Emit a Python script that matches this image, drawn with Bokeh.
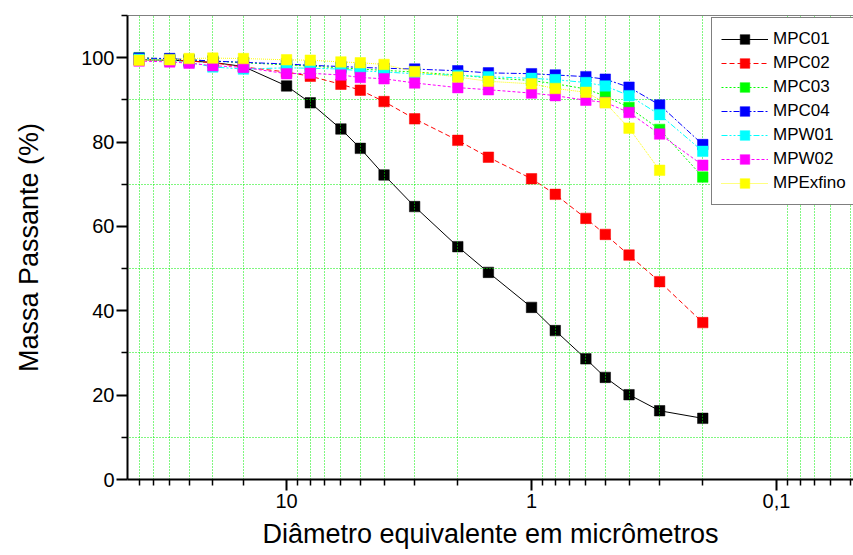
from bokeh.plotting import figure
from bokeh.models import Range1d, FixedTicker, CustomJSTickFormatter, Span
from bokeh.embed import file_html
from bokeh.resources import INLINE

# ---- data (diameter in micrometres, % passing) ----
diam = [40, 30, 25, 20, 15, 10, 8, 6, 5, 4, 3, 2, 1.5, 1, 0.8, 0.6, 0.5, 0.4, 0.3, 0.2]
diam_exfino = [40, 30, 25, 20, 15, 10, 8, 6, 5, 4, 3, 2, 1.5, 1, 0.8, 0.6, 0.5, 0.4, 0.3]

mpc01 = [99.5, 99.4, 99.2, 98.9, 97.9, 93.3, 89.3, 83.1, 78.5, 72.2, 64.7, 55.2, 49.1, 40.8, 35.3, 28.6, 24.2, 20.1, 16.3, 14.5]
mpc02 = [99.6, 99.4, 99.2, 98.8, 97.8, 96.6, 95.6, 93.7, 92.3, 89.6, 85.5, 80.4, 76.4, 71.3, 67.6, 61.9, 58.1, 53.2, 46.9, 37.2]
mpc03 = [100.0, 99.7, 99.5, 99.2, 98.8, 98.3, 98.0, 97.6, 97.3, 97.0, 96.6, 95.9, 95.2, 94.6, 93.8, 92.6, 90.9, 88.2, 83.0, 71.7]
mpc04 = [99.9, 99.8, 99.5, 99.2, 98.9, 98.5, 98.2, 97.9, 97.7, 97.5, 97.3, 96.9, 96.4, 96.2, 95.9, 95.5, 94.9, 93.0, 88.8, 79.4]
mpw01 = [99.6, 99.4, 98.9, 97.8, 97.3, 97.6, 97.5, 97.3, 96.9, 96.6, 96.2, 95.8, 95.5, 95.1, 94.8, 94.1, 93.3, 91.0, 86.5, 77.8]
mpw02 = [99.2, 99.0, 98.7, 98.1, 97.7, 96.2, 96.3, 95.9, 95.3, 95.0, 94.0, 92.9, 92.4, 91.6, 91.0, 89.9, 89.4, 87.0, 81.9, 74.5]
mpexfino = [99.4, 99.5, 99.8, 99.9, 99.8, 99.5, 99.4, 99.0, 98.8, 98.4, 96.7, 95.4, 94.4, 93.8, 92.7, 91.8, 89.3, 83.3, 73.3]

x_major = [10, 1, 0.1]
x_minor = [45, 40, 35, 30, 25, 20, 15, 9, 8, 7, 6, 5, 4, 3, 2,
           0.9, 0.8, 0.7, 0.6, 0.5, 0.4, 0.3, 0.2, 0.09, 0.08, 0.07, 0.06, 0.05]
y_major = [0, 20, 40, 60, 80, 100]
y_minor = [10, 30, 50, 70, 90, 110]

FONT = "Liberation Sans"

p = figure(width=853, height=555, x_axis_type="log",
           x_range=Range1d(44.6, 0.0485), y_range=Range1d(0, 110),
           output_backend="svg", toolbar_location=None,
           min_border_left=127, min_border_right=0,
           min_border_top=15, min_border_bottom=76)

p.outline_line_color = None
p.background_fill_color = "white"
p.border_fill_color = "white"

# grids only on minor ticks
for g in (p.xgrid, p.ygrid):
    g.grid_line_color = None
    g.minor_grid_line_color = "#00ee00"
    g.minor_grid_line_dash = "1 2"
    g.minor_grid_line_width = 1

p.xaxis.ticker = FixedTicker(ticks=x_major, minor_ticks=x_minor)
p.yaxis.ticker = FixedTicker(ticks=y_major, minor_ticks=y_minor)
p.xgrid.ticker = p.xaxis.ticker
p.ygrid.ticker = p.yaxis.ticker
p.xaxis.formatter = CustomJSTickFormatter(
    code="return tick < 1 ? String(tick).replace('.', ',') : String(tick);")

for ax in (p.xaxis, p.yaxis):
    ax.axis_line_width = 2
    ax.axis_line_color = "black"
    ax.major_tick_line_width = 2
    ax.minor_tick_line_width = 1.5
    ax.major_tick_out = 11
    ax.major_tick_in = 0
    ax.minor_tick_out = 6
    ax.minor_tick_in = 0
    ax.major_label_text_font = FONT
    ax.major_label_text_font_size = "20px"
    ax.major_label_text_color = "black"
    ax.axis_label_text_font = FONT
    ax.axis_label_text_font_size = "27px"
    ax.axis_label_text_font_style = "normal"
    ax.axis_label_text_color = "black"

p.xaxis.axis_label = "Diâmetro equivalente em micrômetros"
p.yaxis.axis_label = "Massa Passante (%)"
p.xaxis.major_label_standoff = 3
p.xaxis.axis_label_standoff = 8
p.yaxis.major_label_standoff = 2
p.yaxis.axis_label_standoff = 34

# top border line
p.add_layout(Span(location=110, dimension="width", line_color="black", line_width=1))

series = [
    ("MPC01", diam, mpc01, "black", "solid"),
    ("MPC02", diam, mpc02, "#ff0000", "5 3"),
    ("MPC03", diam, mpc03, "#00ff00", "2 2"),
    ("MPC04", diam, mpc04, "#0000ff", "6 2 2 2"),
    ("MPW01", diam, mpw01, "#00ffff", "6 2 2 2 2 2"),
    ("MPW02", diam, mpw02, "#ff00ff", "3 2"),
    ("MPExfino", diam_exfino, mpexfino, "#ffff00", "1 1"),
]

for name, xs, ys, color, dash in series:
    lvl = "image" if name == "MPC01" else "glyph"
    p.line(xs, ys, line_color=color, line_width=1, line_dash=dash,
           legend_label=name, level=lvl)
    p.scatter(xs, ys, marker="square", size=10.5, fill_color=color,
              line_color=color, line_alpha=0.5, line_width=1,
              legend_label=name, level=lvl)

lg = p.legend[0]
lg.location = (584, 274)
lg.border_line_color = "black"
lg.border_line_width = 1.5
lg.background_fill_color = "white"
lg.background_fill_alpha = 1
lg.label_text_font = FONT
lg.label_text_font_size = "17px"
lg.label_text_color = "black"
lg.glyph_width = 47
lg.glyph_height = 24
lg.label_height = 24
lg.label_standoff = 5
lg.spacing = 0
lg.padding = 9
lg.margin = 0

open("out.html", "w").write(file_html(p, INLINE))
